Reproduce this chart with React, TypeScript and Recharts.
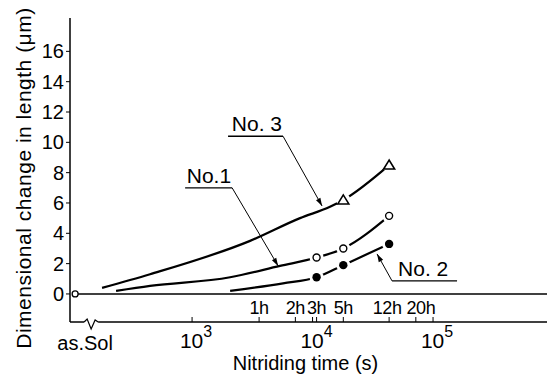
import {
  ComposedChart,
  Line,
  Scatter,
  XAxis,
  YAxis,
  ReferenceLine,
  Label,
} from 'recharts'

const FONT = '"Liberation Sans", Arial, sans-serif'

// nitriding time (s) on a log axis; "as.Sol" sits just inside the left edge
const AS_SOL = 107
const X_MIN = 97
const X_MAX = 883000
const DECADES = [1000, 10000, 100000]
const HOURS = [3600, 7200, 10800, 18000, 43200, 72000]
const HOUR_LABELS = ['1h', '2h', '3h', '5h', '12h', '20h']
const Y_TICKS = [0, 2, 4, 6, 8, 10, 12, 14, 16]

// measured points (time s, change in length um)
const asSolMark = [{ t: AS_SOL, v: 0 }]
const no1Marks = [{ t: 10800, v: 2.4 }, { t: 18000, v: 3.0 }, { t: 43200, v: 5.15 }]
const no2Marks = [{ t: 10800, v: 1.1 }, { t: 18000, v: 1.9 }, { t: 43200, v: 3.3 }]
const no3Marks = [{ t: 18000, v: 6.2 }, { t: 43200, v: 8.5 }]

// fitted curves
const no1Curve = [
  { t: 234, v: 0.2 }, { t: 448, v: 0.53 }, { t: 2070, v: 1.1 }, { t: 5370, v: 1.85 },
  { t: 10800, v: 2.4 }, { t: 18000, v: 3.0 }, { t: 43200, v: 5.15 },
]
const no2Curve = [
  { t: 2070, v: 0.2 }, { t: 5690, v: 0.7 },
  { t: 10800, v: 1.1 }, { t: 18000, v: 1.9 }, { t: 43200, v: 3.3 },
]
const no3Curve = [
  { t: 179, v: 0.4 }, { t: 448, v: 1.3 }, { t: 3030, v: 3.5 }, { t: 7870, v: 5.0 },
  { t: 13960, v: 5.75 }, { t: 18000, v: 6.2 }, { t: 43200, v: 8.5 },
]

// leader lines: from label underline to the curve
const no1Leader = [{ x: 2150, y: 7.0 }, { x: 5180, y: 1.85 }]
const no2Leader = [{ x: 45700, y: 0.86 }, { x: 34300, y: 2.64 }]
const no3Leader = [{ x: 5690, y: 10.4 }, { x: 12000, y: 5.8 }]

const halo = (cx: number, cy: number) => <circle cx={cx} cy={cy} r={7} fill="#fff" />

const OpenCircle = (p: any) => (
  <g>
    {halo(p.cx, p.cy)}
    <circle cx={p.cx} cy={p.cy} r={3.5} fill="#fff" stroke="#000" strokeWidth={1.4} />
  </g>
)

const FilledCircle = (p: any) => (
  <g>
    {halo(p.cx, p.cy)}
    <circle cx={p.cx} cy={p.cy} r={4.2} fill="#000" />
  </g>
)

const Triangle = (p: any) => {
  const { cx, cy } = p
  return (
    <g>
      {halo(cx, cy)}
      <polygon
        points={`${cx},${cy - 5} ${cx - 5.5},${cy + 4} ${cx + 5.5},${cy + 4}`}
        fill="#fff"
        stroke="#000"
        strokeWidth={1.6}
      />
    </g>
  )
}

const SolCircle = (p: any) => (
  <circle cx={p.cx} cy={p.cy} r={3} fill="#fff" stroke="#000" strokeWidth={1.3} />
)

const makeNote = (text: string, side: 'left' | 'right', w: number) => (p: any) => {
  const { x1, y1, x2, y2 } = p
  const a = Math.atan2(y2 - y1, x2 - x1)
  const c = Math.cos(a)
  const s = Math.sin(a)
  const bx = x2 - 8 * c
  const by = y2 - 8 * s
  const head = `${x2},${y2} ${bx - 2.5 * s},${by + 2.5 * c} ${bx + 2.5 * s},${by - 2.5 * c}`
  const ux = side === 'left' ? x1 - w : x1 + w
  return (
    <g>
      <line x1={x1} y1={y1} x2={x2} y2={y2} stroke="#000" strokeWidth={1} />
      <polygon points={head} fill="#000" />
      <line x1={x1} y1={y1} x2={ux} y2={y1} stroke="#000" strokeWidth={1.3} />
      <text
        x={side === 'left' ? x1 - 1 : x1 + 6}
        y={y1 - 5}
        textAnchor={side === 'left' ? 'end' : 'start'}
        fontSize={21}
        fontFamily={FONT}
        fill="#000"
      >
        {text}
      </text>
    </g>
  )
}

const XTick = (p: any) => {
  const { x, y, payload } = p
  const t = payload.value
  if (t === AS_SOL) {
    return (
      <g>
        <line x1={x + 9} y1={y} x2={x + 23} y2={y} stroke="#fff" strokeWidth={3} />
        <polyline
          points={`${x + 9},${y} ${x + 12},${y - 3} ${x + 16},${y + 7} ${x + 20},${y - 2} ${x + 23},${y}`}
          fill="none"
          stroke="#000"
          strokeWidth={1.2}
        />
        <text x={x + 10} y={y + 28} textAnchor="middle" fontSize={20} fontFamily={FONT} fill="#000">
          as.Sol
        </text>
      </g>
    )
  }
  const hi = HOURS.indexOf(t)
  if (hi >= 0) {
    const nudge = hi === HOURS.length - 1 ? 5 : hi === HOURS.length - 2 ? -2 : 0
    return (
      <g>
        <line x1={x} y1={y} x2={x} y2={y - 5} stroke="#000" strokeWidth={1} />
        <text
          x={x + nudge}
          y={y - 8}
          textAnchor="middle"
          fontSize={18}
          letterSpacing={-0.4}
          fontFamily={FONT}
          fill="#000"
        >
          {HOUR_LABELS[hi]}
        </text>
      </g>
    )
  }
  const exp = Math.round(Math.log10(t))
  return (
    <g>
      <line x1={x} y1={y} x2={x} y2={y - 5} stroke="#000" strokeWidth={1} />
      <text x={x + 4} y={y + 26} textAnchor="middle" fontSize={21} fontFamily={FONT} fill="#000">
        10
        <tspan dy={-11} fontSize={16}>
          {exp}
        </tspan>
      </text>
    </g>
  )
}

const XTitle = (p: any) => {
  const vb = p.viewBox
  return (
    <text x={vb.x + vb.width / 2 - 3} y={vb.y + 48} textAnchor="middle" fontSize={20} fontFamily={FONT} fill="#000">
      Nitriding time (s)
    </text>
  )
}

const YTitle = (p: any) => {
  const vb = p.viewBox
  const cx = vb.x + 23
  const cy = vb.y + vb.height / 2 + 8
  return (
    <text
      x={cx}
      y={cy}
      transform={`rotate(-90 ${cx} ${cy})`}
      textAnchor="middle"
      dominantBaseline="central"
      fontSize={21}
      letterSpacing={0.5}
      fontFamily={FONT}
      fill="#000"
    >
      Dimensional change in length (μm)
    </text>
  )
}

export default function App() {
  return (
    <div style={{ width: 547, height: 376, background: '#fff' }}>
      <style>{'body{margin:0}'}</style>
      <ComposedChart width={547} height={376} margin={{ top: 18, right: 0, bottom: 0, left: 0 }}>
        <XAxis
          dataKey="t"
          type="number"
          scale="log"
          domain={[X_MIN, X_MAX]}
          allowDataOverflow
          ticks={[AS_SOL, ...DECADES, ...HOURS]}
          interval={0}
          tick={XTick}
          tickLine={false}
          tickSize={0}
          tickMargin={0}
          height={54}
          axisLine={{ stroke: '#000', strokeWidth: 1.5 }}
        >
          <Label content={XTitle} />
        </XAxis>
        <XAxis
          xAxisId="top"
          orientation="top"
          type="number"
          scale="log"
          domain={[X_MIN, X_MAX]}
          allowDataOverflow
          tick={false}
          tickLine={false}
          height={0}
          axisLine={{ stroke: '#000', strokeWidth: 1.5 }}
        />
        <YAxis
          type="number"
          domain={[-1.85, 18.2]}
          allowDataOverflow
          ticks={Y_TICKS}
          interval={0}
          width={70}
          tickSize={4}
          tickMargin={2}
          tick={{ fontSize: 20, fill: '#000', fontFamily: FONT }}
          tickLine={{ stroke: '#000' }}
          axisLine={{ stroke: '#000', strokeWidth: 1.5 }}
        >
          <Label content={YTitle} />
        </YAxis>

        <ReferenceLine
          segment={[{ x: AS_SOL, y: 0 }, { x: X_MAX, y: 0 }]}
          stroke="#000"
          strokeWidth={1.5}
          ifOverflow="visible"
        />

        <Line data={no3Curve} dataKey="v" type="monotone" dot={false} stroke="#000" strokeWidth={2.2} isAnimationActive={false} />
        <Line data={no1Curve} dataKey="v" type="monotone" dot={false} stroke="#000" strokeWidth={2.2} isAnimationActive={false} />
        <Line data={no2Curve} dataKey="v" type="monotone" dot={false} stroke="#000" strokeWidth={2.2} isAnimationActive={false} />

        <Scatter data={no3Marks} dataKey="v" shape={Triangle} isAnimationActive={false} />
        <Scatter data={no1Marks} dataKey="v" shape={OpenCircle} isAnimationActive={false} />
        <Scatter data={no2Marks} dataKey="v" shape={FilledCircle} isAnimationActive={false} />
        <Scatter data={asSolMark} dataKey="v" shape={SolCircle} isAnimationActive={false} />

        <ReferenceLine segment={no3Leader} shape={makeNote('No. 3', 'left', 55)} ifOverflow="visible" />
        <ReferenceLine segment={no1Leader} shape={makeNote('No.1', 'left', 47)} ifOverflow="visible" />
        <ReferenceLine segment={no2Leader} shape={makeNote('No. 2', 'right', 65)} ifOverflow="visible" />
      </ComposedChart>
    </div>
  )
}
